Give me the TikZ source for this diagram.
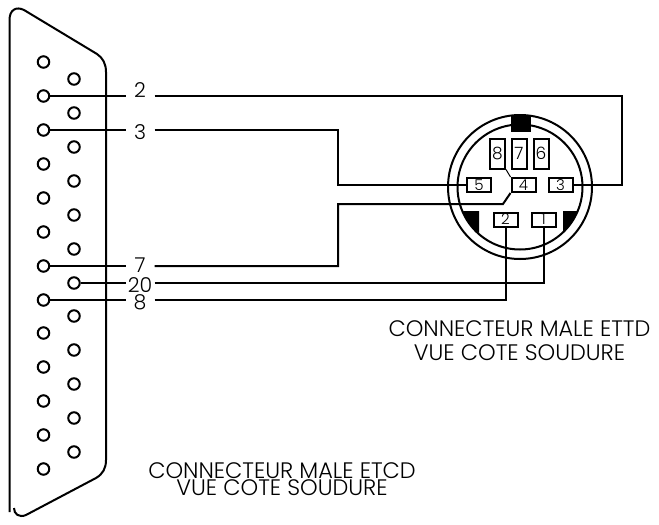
\documentclass[tikz,border=0pt]{standalone}
\usepackage{fontspec}
\setmainfont{Poppins Light}
\usetikzlibrary{calc}

\begin{document}
\begin{tikzpicture}[x=1pt,y=-1pt,line width=2pt,
	pin/.style={draw,circle,inner sep=0pt,minimum size=11.5pt},
	numlabel/.style={inner sep=0pt,minimum width=27pt,minimum height=10pt,font=\fontsize{20.5}{20.5}\selectfont},
	contact/.style={draw,fill=white,inner sep=0pt,minimum width=24pt,minimum height=14pt,font=\fontsize{15}{15}\selectfont},
	tallcontact/.style={draw,fill=white,inner sep=0pt,minimum width=15pt,minimum height=30pt,font=\fontsize{17}{17}\selectfont},
	caption/.style={inner sep=0pt,align=center,font=\fontsize{22.4}{24}\selectfont}]
	\useasboundingbox (0,0) rectangle (659,525);
	% sub-d shell
	\draw (9.5,512)--(9.5,20) .. controls (9.5,10) and (16,6) .. (24,10)--(97,54)
		.. controls (103,58) and (106,64) .. (106,72)--(106,460)
		.. controls (106,468) and (103,474) .. (96,478)--(26,515)
		.. controls (19,518) and (14,514) .. (14,508);
	\foreach \y [count=\i] in {62,96,130,164,198,232,266,300,333,367,401,435,469}
		\node[pin] (l\i) at (43.5,\y) {};
	\foreach \y [count=\i from 14] in {79,113,147,181,215,249,283,316,350,384,418,452}
		\node[pin] (l\i) at (74,\y) {};
	% din shell
	\node[draw,circle,inner sep=0pt,minimum size=144pt] (outer) at (520,187) {};
	\node[draw,circle,inner sep=0pt,minimum size=125pt] (inner) at (520,187) {};
	\fill (511,116) rectangle (531,132);
	\fill (463,211)--(479,211)--(479,233) .. controls (471,227) and (466,219) .. cycle;
	\fill (563,211)--(578,211) .. controls (575,219) and (570,227) .. (563,233)--cycle;
	% din contacts
	\node[tallcontact] (p8) at (497.5,153.5) {8};
	\node[tallcontact] (p7) at (519,153.5) {7};
	\node[tallcontact] (p6) at (541,153.5) {6};
	\node[contact] (p5) at (479,185) {5};
	\node[contact] (p4) at (523.5,185) {4};
	\node[contact] (p3) at (560.5,185) {3};
	\node[contact] (p2) at (505.5,219.5) {2};
	\node[contact] (p1) at (543.5,219.5) {1};
	% pin numbers
	\node[numlabel] (n2) at (140,90) {2};
	\node[numlabel] (n3) at (140,132) {3};
	\node[numlabel] (n7) at (140,265) {7};
	\node[numlabel] (n20) at (140,285) {20};
	\node[numlabel] (n8) at (140,302) {8};
	\coordinate (c2) at (621.5,96);
	\coordinate (c3) at (338,130);
	\coordinate (c7) at (338,266);
	\coordinate (d7) at (338,204);
	\coordinate (e7) at (503,204);
	% wires
	\draw (l2)--(n2.west |- l2);
	\draw (n2.east |- l2)--(c2) |- (p3.east);
	\draw (l3)--(n3.west |- l3);
	\draw (n3.east |- l3)--(c3) |- (p5.west);
	\draw (l7)--(n7.west |- l7);
	\draw (n7.east |- l7)--(c7)--(d7)--(e7)--(p4.south west);
	\draw (l20)--(n20.west |- l20);
	\draw (n20.east |- l20) -| (p1.south);
	\draw (l8)--(n8.west |- l8);
	\draw (n8.east |- l8) -| (p2.south);
	\draw[line width=1pt] (p8.south east)--(p4.north west);
	% captions
	\node[caption] (din) at (519.5,341) {CONNECTEUR MALE ETTD\\VUE COTE SOUDURE};
	\node[caption,font=\fontsize{22.4}{17}\selectfont] (sub) at (282,479.5) {CONNECTEUR MALE ETCD\\VUE COTE SOUDURE};
\end{tikzpicture}
\end{document}
